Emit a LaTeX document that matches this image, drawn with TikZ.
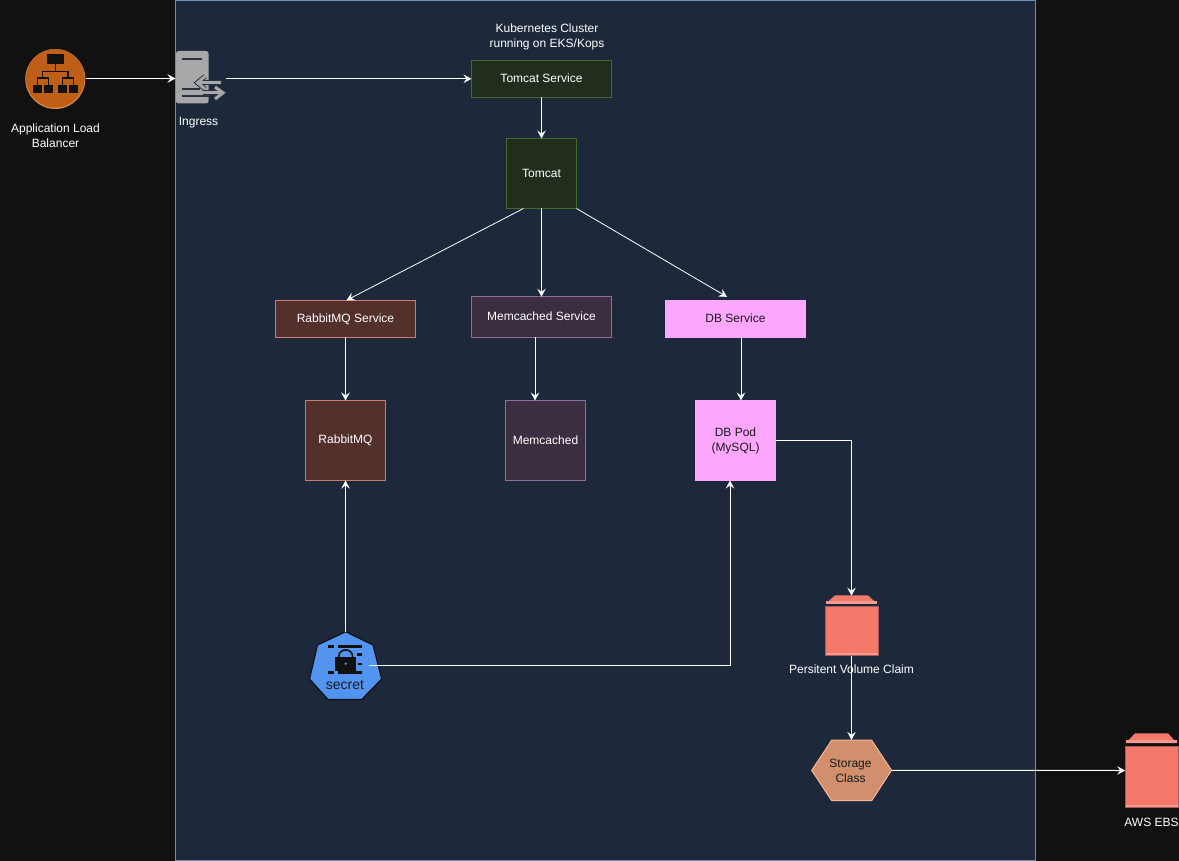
\documentclass[tikz,border=0pt]{standalone}
\usepackage{fontspec}
\setmainfont{Liberation Sans}
\usetikzlibrary{arrows.meta}
\definecolor{pagebg}{HTML}{111111}
\definecolor{clusterbg}{HTML}{1D293B}
\definecolor{clusterln}{HTML}{6C8EBF}
\definecolor{tomfill}{HTML}{212E1D}
\definecolor{tomln}{HTML}{44692E}
\definecolor{rabfill}{HTML}{54302D}
\definecolor{rabln}{HTML}{C97B75}
\definecolor{memfill}{HTML}{3B2E40}
\definecolor{memln}{HTML}{8D6E9E}
\definecolor{dbfill}{HTML}{FFA6FF}
\definecolor{hexfill}{HTML}{D18F6E}
\definecolor{hexln}{HTML}{F7B595}
\definecolor{ebsfill}{HTML}{F4796B}
\definecolor{ebsband}{HTML}{F49A90}
\definecolor{ebsln}{HTML}{A85A52}
\definecolor{albfill}{HTML}{BF5F17}
\definecolor{albrim}{HTML}{D98A50}
\definecolor{inggray}{HTML}{A8A8A8}
\definecolor{inkdark}{HTML}{2A3340}
\definecolor{secfill}{HTML}{5294EF}
\definecolor{txtdark}{HTML}{1A1A1A}
\newcommand{\liftlabel}[1]{\raisebox{.8pt}{#1}}
\tikzset{
  lbl/.style={font=\fontsize{12}{15}\selectfont,align=center,inner sep=0,outer sep=0,text=white},
  darklbl/.style={lbl,text=txtdark},
  boxbase/.style={draw,line width=1pt,inner sep=0,outer sep=0,font=\fontsize{12}{15}\selectfont,align=center,text=white},
  tombox/.style={boxbase,fill=tomfill,draw=tomln},
  rabbox/.style={boxbase,fill=rabfill,draw=rabln},
  membox/.style={boxbase,fill=memfill,draw=memln},
  dbbox/.style={boxbase,fill=dbfill,draw=dbfill,text=txtdark},
  anchorbox/.style={inner sep=0,outer sep=0},
  conn/.style={draw=white,line width=1pt,-{Stealth[length=8pt,width=8.5pt,inset=3pt]}},
}
\begin{document}
\begin{tikzpicture}[x=1pt,y=-1pt]
\useasboundingbox (0,0) rectangle (1179,861);
\fill[pagebg] (0,0) rectangle (1179,861);
\filldraw[fill=clusterbg,draw=clusterln,line width=1pt] (175.5,0.5) rectangle (1035.5,860.5);

% Load balancer icon
\node[anchorbox,minimum width=61pt,minimum height=61pt] (alb) at (55.3,78.5) {};
\fill[albrim] (55.3,79) circle (30);
\fill[albfill] (55.3,78.3) circle (29.3);
\fill[pagebg] (46.7,54.3) rectangle (64,64.3);
\fill[pagebg] (33,85) rectangle (41.7,92.7);
\fill[pagebg] (44,85) rectangle (52.7,92.7);
\fill[pagebg] (57.7,85) rectangle (66.7,92.7);
\fill[pagebg] (69,85) rectangle (77.7,92.7);
\draw[pagebg,line width=1.3pt]
  (55.3,64.3) -- (55.3,71.5) (42.5,78) -- (42.5,71.5) -- (68,71.5) -- (68,78)
  (37.3,85) -- (37.3,78) -- (48.3,78) -- (48.3,85)
  (62.2,85) -- (62.2,78) -- (73.3,78) -- (73.3,85);
\node[lbl] (alblabel) at (55.5,136) {Application Load\\Balancer};

% Ingress icon
\node[anchorbox,minimum width=50pt,minimum height=54pt] (ingress) at (200.5,78.8) {};
\fill[inggray,rounded corners=2.5pt] (176,51) rectangle (208.5,103.5);
\fill[inkdark] (182,58) rectangle (202,59.7);
\fill[inkdark] (182,88.5) rectangle (200,90);
\fill[inkdark] (182,95.5) rectangle (208.5,97);
\draw[inkdark,line width=5pt] (221.5,82.7) -- (198,82.7) (203,92.8) -- (222,92.8);
\draw[inkdark,line width=5pt,miter limit=10] (205,76.5) -- (197.5,82.7) -- (205,89);
\draw[inkdark,line width=5pt,miter limit=10] (215,87) -- (223,92.8) -- (215,99);
\draw[inggray,line width=3pt] (220.5,82.7) -- (198,82.7) (203,92.8) -- (222,92.8);
\draw[inggray,line width=3pt] (205,76.5) -- (197.5,82.7) -- (205,89);
\draw[inggray,line width=3pt] (215,87) -- (223,92.8) -- (215,99);
\node[lbl] (inglabel) at (198.5,123) {Ingress};

% Title
\node[lbl] (title) at (547,36.5) {Kubernetes Cluster\\running on EKS/Kops};

% Boxes
\node[tombox,minimum width=140pt,minimum height=37pt] (tomsvc) at (541.5,78.8) {\liftlabel{Tomcat Service}};
\node[tombox,minimum width=70pt,minimum height=70pt] (tomcat) at (541.5,173.5) {Tomcat};
\node[rabbox,minimum width=140pt,minimum height=37pt] (rabsvc) at (345.5,318.8) {\liftlabel{RabbitMQ Service}};
\node[membox,minimum width=140pt,minimum height=40.5pt] (memsvc) at (541.5,317) {\liftlabel{Memcached Service}};
\node[dbbox,minimum width=140pt,minimum height=37pt] (dbsvc) at (735.5,318.8) {\liftlabel{DB Service}};
\node[rabbox,minimum width=80pt,minimum height=80pt] (rabbit) at (345.5,440.5) {RabbitMQ};
\node[membox,minimum width=80pt,minimum height=80pt] (memc) at (545.5,440.5) {Memcached};
\node[dbbox,minimum width=80pt,minimum height=80pt] (dbpod) at (735.5,440.5) {DB Pod\\(MySQL)};

% Secret icon
\node[anchorbox,minimum width=72pt,minimum height=68pt] (secret) at (345.5,665.5) {};
\filldraw[fill=secfill,draw=pagebg,line width=1.2pt,line join=round]
  (345.7,631.7) -- (373,645) -- (381.7,679) -- (361.7,699.5) -- (328,699.5) -- (309.5,679) -- (317.5,645) -- cycle;
\fill[pagebg] (328,645) rectangle (334,648);
\fill[pagebg] (338,645) rectangle (362,648);
\fill[pagebg] (357,653) rectangle (362,656);
\fill[pagebg] (358,662.5) rectangle (362,665);
\fill[pagebg] (328,671) rectangle (334,674);
\fill[pagebg] (338,671) rectangle (362,673.5);
\draw[pagebg,line width=1.6pt] (338.7,657) .. controls (338.7,647.5) and (352.7,647.5) .. (352.7,657);
\fill[pagebg] (335,657) rectangle (356,671);
\fill[secfill] (345.7,663.7) circle (1.3);
\node[lbl,text=txtdark,font=\fontsize{14}{15}\selectfont] (seclabel) at (345,685) {secret};

% Storage icons
\node[anchorbox,minimum width=53pt,minimum height=60pt] (pvc) at (851.5,625.7) {};
\fill[ebsfill] (826,603.5) -- (835,595.3) -- (868,595.3) -- (876.7,603.5) -- cycle;
\fill[ebsband] (826,601) rectangle (876.7,603.5);
\filldraw[fill=ebsfill,draw=ebsln,line width=.6pt] (825.5,606.7) rectangle (878,655.7);
\fill[ebsband] (825.8,653) rectangle (877.7,655.4);
\node[lbl] (pvclabel) at (851.5,669) {Persitent Volume Claim};

\node[anchorbox,minimum width=53pt,minimum height=75pt] (ebs) at (1151.7,770.5) {};
\fill[ebsfill] (1126,743) -- (1135,733.3) -- (1168,733.3) -- (1176.7,743) -- cycle;
\fill[ebsband] (1126,740) rectangle (1176.7,743);
\filldraw[fill=ebsfill,draw=ebsln,line width=.6pt] (1125.5,746.7) rectangle (1178.7,807.7);
\fill[ebsband] (1125.8,805) rectangle (1178.4,807.4);
\node[lbl] (ebslabel) at (1151.5,822) {AWS EBS};

% Storage class
\node[anchorbox,minimum width=80pt,minimum height=61pt] (sc) at (851.5,770.4) {};
\filldraw[fill=hexfill,draw=hexln,line width=1pt]
  (811.7,770.3) -- (831.7,740.2) -- (871.7,740.2) -- (891.5,770.3) -- (871.7,800.7) -- (831.7,800.7) -- cycle;
\node[darklbl] (sclabel) at (850.5,770.5) {Storage\\Class};

% Connectors
\draw[conn] (alb.east) -- (ingress.west |- alb.east);
\draw[conn] (ingress.east) -- (tomsvc.west);
\draw[conn] (tomsvc.south) -- (tomcat.north);
\draw[conn,line width=.8pt] ([xshift=17pt]tomcat.south west) -- ([xshift=1pt]rabsvc.north);
\draw[conn] (tomcat.south) -- (memsvc.north);
\draw[conn,line width=.8pt] (tomcat.south east) -- ([xshift=-8.5pt,yshift=3.5pt]dbsvc.north);
\draw[conn] (rabsvc.south) -- (rabbit.north);
\draw[conn] ([xshift=-6.5pt]memsvc.south) -- ([xshift=-10.5pt]memc.north);
\draw[conn] ([xshift=5.5pt]dbsvc.south) -- ([xshift=5.5pt]dbpod.north);
\draw[conn] (dbpod.east) -- (pvc.north |- dbpod.east) -- (pvc.north);
\draw[conn] (pvc.south) -- (sc.north);
\draw[conn] (sc.east) -- (ebs.west);
\draw[conn] (secret.north) -- (rabbit.south);
\draw[conn] ([xshift=-13pt]secret.east) -- (730,665.5) -- ([xshift=-5.5pt]dbpod.south);
\end{tikzpicture}
\end{document}
